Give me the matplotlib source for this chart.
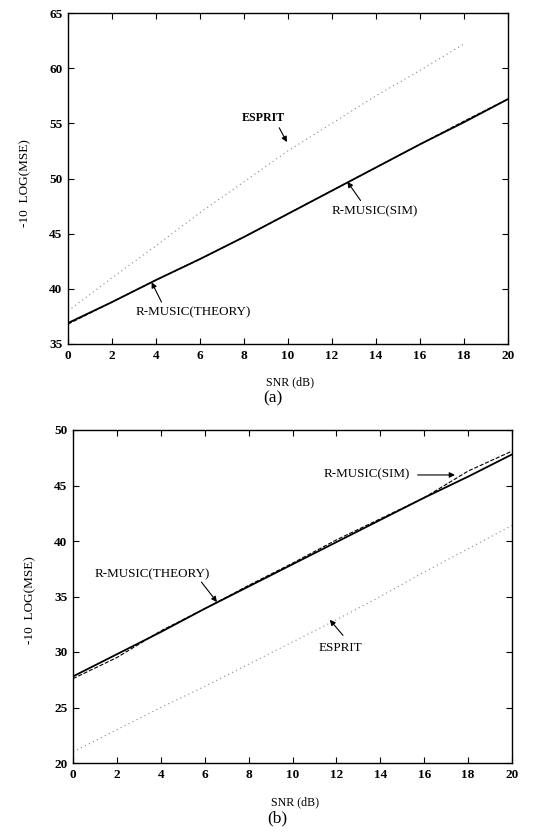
import matplotlib
matplotlib.use("Agg")
import matplotlib.pyplot as plt
import numpy as np

plt.rcParams['font.family'] = ['Liberation Serif', 'DejaVu Serif']

# ---------------- data ----------------
snr = [0, 2, 4, 6, 8, 10, 12, 14, 16, 18, 20]

# panel (a)
a_theory = [36.9, 38.8, 40.8, 42.7, 44.7, 46.8, 48.9, 51.0, 53.1, 55.1, 57.2]
a_sim    = [36.8, 38.8, 40.8, 42.7, 44.7, 46.8, 48.9, 51.0, 53.1, 55.2, 57.2]
a_esprit_snr = [0, 2, 4, 6, 8, 10, 12, 14, 16, 18]
a_esprit = [38.0, 41.0, 43.9, 46.9, 49.7, 52.5, 55.0, 57.5, 59.8, 62.2]

# panel (b)
b_theory = [27.8, 29.8, 31.8, 33.9, 35.9, 37.9, 39.9, 41.9, 43.9, 45.8, 47.8]
b_sim    = [27.6, 29.5, 31.9, 33.9, 36.0, 38.0, 40.1, 42.0, 43.9, 46.3, 48.1]
b_esprit = [21.0, 23.0, 25.0, 26.9, 28.9, 30.9, 32.9, 35.0, 37.2, 39.3, 41.4]

xticks = [0, 2, 4, 6, 8, 10, 12, 14, 16, 18, 20]
a_yticks = [35, 40, 45, 50, 55, 60, 65]
b_yticks = [20, 25, 30, 35, 40, 45, 50]

W, H = 541, 836
fig = plt.figure(figsize=(W / 100, H / 100), dpi=100)

def px_axes(l, t, r, b):
    return fig.add_axes([l / W, 1 - b / H, (r - l) / W, (b - t) / H])

FS = 9.5

def style(ax, yticks):
    ax.set_xlim(0, 20)
    ax.set_ylim(yticks[0], yticks[-1])
    ax.set_xticks(xticks)
    ax.set_yticks(yticks)
    ax.tick_params(direction='in', top=True, right=True, length=4, width=0.8,
                   labelsize=FS, pad=4)
    for lab in ax.get_xticklabels() + ax.get_yticklabels():
        lab.set_fontweight('bold')
    for s in ax.spines.values():
        s.set_linewidth(1.0)

arrow = dict(arrowstyle='-|>', color='k', lw=0.8, mutation_scale=8, shrinkA=0, shrinkB=0)
TFS = 9.4

# ---- panel (a)
ax = px_axes(68, 13, 508, 344)
ax.plot(a_esprit_snr, a_esprit, linestyle=(0, (1, 3)), color='#888888', lw=0.8)
ax.plot(snr, a_sim, linestyle='--', color='k', lw=0.8)
ax.plot(snr, a_theory, linestyle='-', color='k', lw=1.3)
style(ax, a_yticks)
ax.text(8.86, 55.5, 'ESPRIT', ha='center', va='center', fontsize=8.6, fontweight='bold')
ax.annotate('', xy=(9.95, 53.3), xytext=(9.6, 54.6), arrowprops=arrow)
ax.text(13.95, 47.05, 'R-MUSIC(SIM)', ha='center', va='center', fontsize=TFS)
ax.annotate('', xy=(12.7, 49.7), xytext=(13.3, 48.0), arrowprops=arrow)
ax.text(5.68, 37.9, 'R-MUSIC(THEORY)', ha='center', va='center', fontsize=TFS)
ax.annotate('', xy=(3.8, 40.6), xytext=(4.25, 38.8), arrowprops=arrow)

fig.text(25 / W, 1 - 183 / H, '-10  LOG(MSE)', rotation=90, ha='center', va='center', fontsize=FS)
fig.text(290 / W, 1 - 382 / H, 'SNR (dB)', ha='center', va='center', fontsize=8.6)
fig.text(273 / W, 1 - 398 / H, '(a)', ha='center', va='center', fontsize=12.5)

# ---- panel (b)
bx = px_axes(73, 430, 512, 763)
bx.plot(snr, b_esprit, linestyle=(0, (1, 3)), color='#888888', lw=0.8)
bx.plot(snr, b_sim, linestyle='--', color='k', lw=0.8)
bx.plot(snr, b_theory, linestyle='-', color='k', lw=1.3)
style(bx, b_yticks)
bx.text(13.4, 46.0, 'R-MUSIC(SIM)', ha='center', va='center', fontsize=TFS)
bx.annotate('', xy=(17.4, 45.95), xytext=(15.7, 45.95), arrowprops=arrow)
bx.text(3.6, 37.0, 'R-MUSIC(THEORY)', ha='center', va='center', fontsize=TFS)
bx.annotate('', xy=(6.56, 34.5), xytext=(5.85, 36.3), arrowprops=arrow)
bx.text(12.2, 30.4, 'ESPRIT', ha='center', va='center', fontsize=TFS)
bx.annotate('', xy=(11.7, 32.9), xytext=(12.3, 31.5), arrowprops=arrow)

fig.text(30 / W, 1 - 600 / H, '-10  LOG(MSE)', rotation=90, ha='center', va='center', fontsize=FS)
fig.text(295 / W, 1 - 802 / H, 'SNR (dB)', ha='center', va='center', fontsize=8.6)
fig.text(277 / W, 1 - 818 / H, '(b)', ha='center', va='center', fontsize=12.5)

fig.savefig('out.png', dpi=100)
